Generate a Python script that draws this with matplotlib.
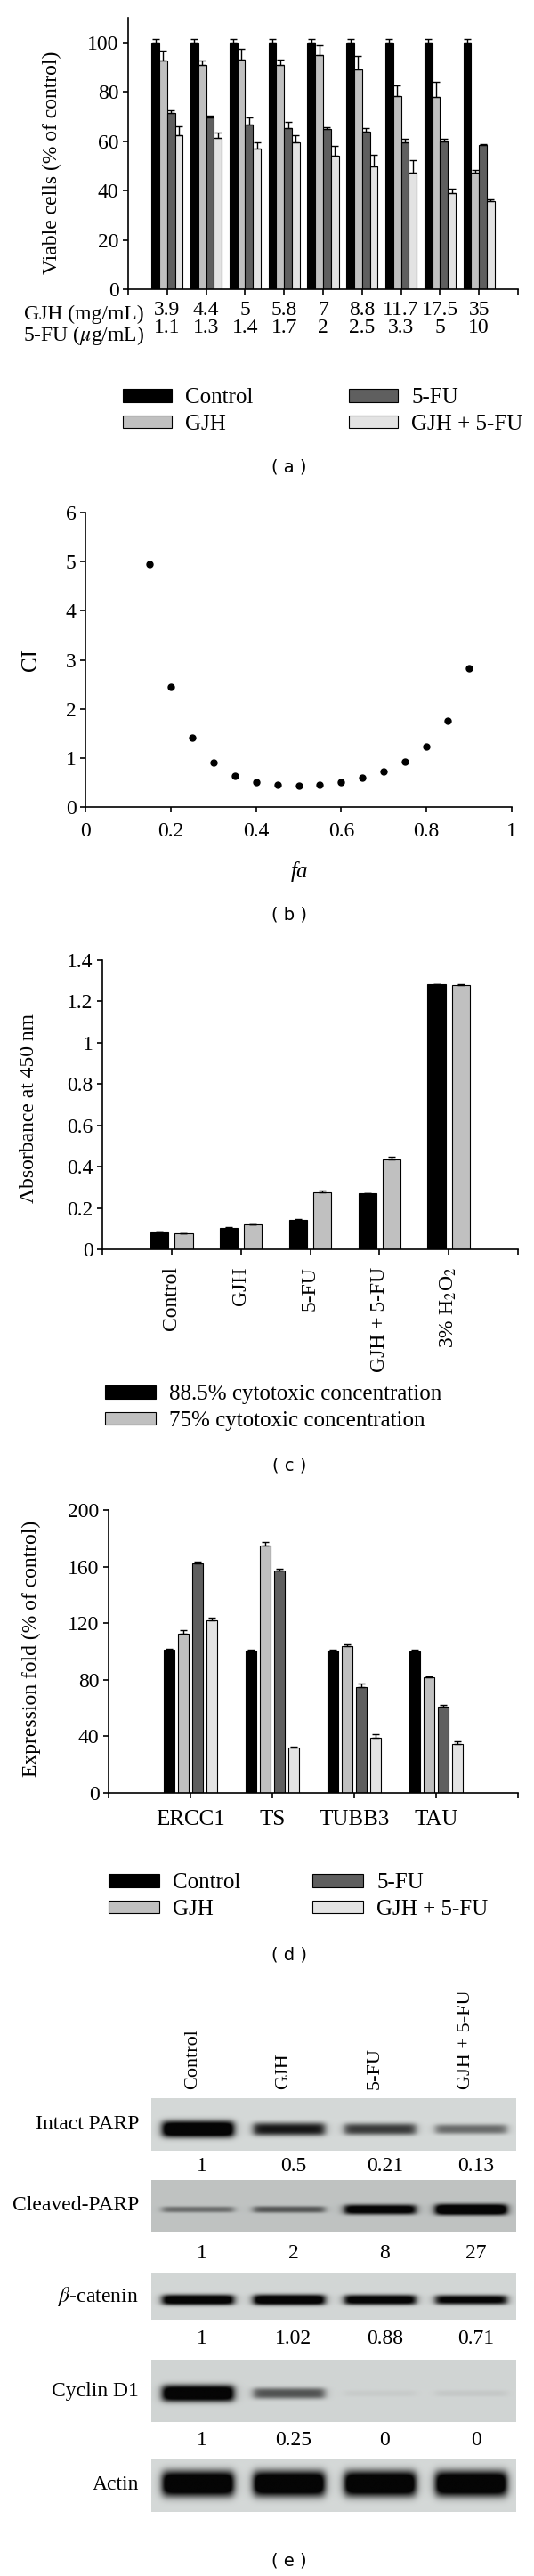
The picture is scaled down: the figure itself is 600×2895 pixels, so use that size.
import numpy as np
import matplotlib
matplotlib.use("Agg")
import matplotlib.pyplot as plt
from matplotlib.patches import Patch
from matplotlib.colors import LinearSegmentedColormap

plt.rcParams['font.family'] = ['Liberation Serif', 'DejaVu Serif']
plt.rcParams['mathtext.fontset'] = 'stix'

W, H = 600, 2895
BLACK, GRAY, DARK, LIGHT = '#000000', '#c0c0c0', '#5f5f5f', '#e3e3e3'
FS = 17

# ---- (a) viability ----
gjh_conc = ['3.9', '4.4', '5', '5.8', '7', '8.8', '11.7', '17.5', '35']
fu_conc = ['1.1', '1.3', '1.4', '1.7', '2', '2.5', '3.3', '5', '10']
ctrl_a = [100, 100, 100, 100, 100, 100, 100, 100, 100]
ctrl_a_err = [1.2, 1.2, 1.2, 1.2, 1.2, 1.2, 1.2, 1.2, 1.2]
gjh_a = [92.8, 90.8, 93.1, 91.0, 94.9, 89.0, 78.4, 77.8, 47.2]
gjh_a_err = [3.8, 2.0, 4.2, 2.2, 3.9, 5.6, 4.2, 6.2, 1.2]
fu_a = [71.3, 69.7, 66.7, 65.1, 64.8, 63.8, 59.6, 59.9, 58.4]
fu_a_err = [1.2, 0.8, 2.8, 2.6, 0.8, 1.3, 1.4, 1.0, 0.3]
combo_a = [62.3, 61.3, 57.1, 59.5, 54.1, 49.6, 47.3, 39.0, 35.6]
combo_a_err = [3.8, 2.2, 2.5, 3.0, 3.8, 4.9, 5.0, 1.9, 1.0]

# ---- (b) combination index ----
fa = [0.15, 0.2, 0.25, 0.3, 0.35, 0.4, 0.45, 0.5, 0.55, 0.6, 0.65, 0.7, 0.75, 0.8, 0.85, 0.9]
ci = [4.94, 2.45, 1.41, 0.90, 0.64, 0.51, 0.45, 0.43, 0.455, 0.51, 0.59, 0.72, 0.92, 1.23, 1.76, 2.83]

# ---- (c) absorbance ----
groups_c = ['Control', 'GJH', '5-FU', 'GJH + 5-FU', r'3% H$_2$O$_2$']
abs_885 = [0.080, 0.104, 0.144, 0.270, 1.282]
abs_885_err = [0.002, 0.002, 0.002, 0.002, 0.003]
abs_75 = [0.077, 0.119, 0.277, 0.436, 1.280]
abs_75_err = [0.002, 0.002, 0.008, 0.010, 0.003]

# ---- (d) expression ----
genes = ['ERCC1', 'TS', 'TUBB3', 'TAU']
ctrl_d = [101, 100.5, 100.5, 100]
ctrl_d_err = [1.0, 1.0, 1.0, 1.0]
gjh_d = [112.6, 174.7, 103.6, 81.8]
gjh_d_err = [2.5, 2.5, 1.3, 0.8]
fu_d = [162.1, 157.3, 75.1, 60.7]
fu_d_err = [1.5, 1.5, 2.0, 1.7]
combo_d = [122.1, 32.0, 39.1, 34.9]
combo_d_err = [2.0, 1.0, 2.7, 1.5]

# ---- (e) western blot ----
lanes = ['Control', 'GJH', '5-FU', 'GJH + 5-FU']
proteins = ['Intact PARP', 'Cleaved-PARP', r'$\beta$-catenin', 'Cyclin D1', 'Actin']
band_intact = [1.0, 0.68, 0.55, 0.38]
band_cleaved = [0.3, 0.38, 0.8, 0.95]
band_bcat = [0.9, 0.92, 0.85, 0.78]
band_cyclin = [0.95, 0.45, 0.03, 0.04]
band_actin = [1.0, 1.0, 1.0, 1.0]
quant_intact = ['1', '0.5', '0.21', '0.13']
quant_cleaved = ['1', '2', '8', '27']
quant_bcat = ['1', '1.02', '0.88', '0.71']
quant_cyclin = ['1', '0.25', '0', '0']

fig = plt.figure(figsize=(W / 100, H / 100), dpi=100)


def px_axes(l, t, r, b):
    return fig.add_axes([l / W, 1 - b / H, (r - l) / W, (b - t) / H])


def px_text(x, y, s, **kw):
    fig.text(x / W, 1 - y / H, s, **kw)


def style(ax):
    ax.spines[['top', 'right']].set_visible(False)
    ax.spines[['left', 'bottom']].set_linewidth(1.2)
    ax.tick_params(direction='out', length=4, width=1.2, labelsize=FS)


def bars(ax, x, vals, errs, color, width):
    ax.bar(x, vals, width, color=color, edgecolor='black', linewidth=0.8)
    ax.errorbar(x, vals, yerr=[np.zeros(len(vals)), errs], fmt='none',
                ecolor='black', elinewidth=1, capsize=3, capthick=1)


def panel_label(y, s):
    px_text(325, y, s, family='DejaVu Sans', fontsize=14, ha='center', va='center')


# (a)
ax = px_axes(144, 20, 582, 325)
style(ax)
xa = np.arange(1, len(gjh_conc) + 1)
for off, v, e, c in [(-0.3, ctrl_a, ctrl_a_err, BLACK), (-0.1, gjh_a, gjh_a_err, GRAY),
                     (0.1, fu_a, fu_a_err, DARK), (0.3, combo_a, combo_a_err, LIGHT)]:
    bars(ax, xa + off, v, e, c, 0.2)
ax.set_xlim(0, 10)
ax.set_ylim(0, 110)
ax.set_yticks(range(0, 101, 20))
ax.set_xticks(range(0, 11))
ax.set_xticklabels([''] + [g + '\n' + f for g, f in zip(gjh_conc, fu_conc)] + [''],
                   linespacing=0.95)
ax.tick_params(axis='x', pad=5)
px_text(162, 353, 'GJH (mg/mL)', fontsize=FS, ha='right', va='center')
px_text(162, 377, r'5-FU ($\mu$g/mL)', fontsize=FS, ha='right', va='center')
px_text(58, 183, 'Viable cells (% of control)', fontsize=FS, rotation=90, ha='center', va='center')
handles4 = [Patch(facecolor=c, edgecolor='black', linewidth=0.8) for c in [BLACK, GRAY, DARK, LIGHT]]
names4 = ['Control', 'GJH', '5-FU', 'GJH + 5-FU']
fig.legend(handles4, names4, ncol=2, loc='center', bbox_to_anchor=(363 / W, 1 - 462 / H),
           frameon=False, fontsize=18, handlelength=2.2, handleheight=0.5,
           handletextpad=0.6, columnspacing=4.3, labelspacing=0.3, borderpad=0)
panel_label(525, '( a )')

# (b)
ax = px_axes(96, 576, 575, 907)
style(ax)
ax.plot(fa, ci, 'o', color='black', markersize=5)
ax.set_xlim(0, 1)
ax.set_ylim(0, 6)
ax.set_xticks([0, 0.2, 0.4, 0.6, 0.8, 1])
ax.set_xticklabels(['0', '0.2', '0.4', '0.6', '0.8', '1'])
ax.set_yticks(range(0, 7))
ax.tick_params(axis='x', pad=8)
px_text(35, 742, 'CI', fontsize=18, rotation=90, ha='center', va='center')
px_text(336, 980, 'fa', fontsize=18, style='italic', ha='center', va='center')
panel_label(1028, '( b )')

# (c)
ax = px_axes(115, 1079, 582, 1404)
style(ax)
xc = np.arange(1, len(groups_c) + 1)
bars(ax, xc - 0.175, abs_885, abs_885_err, BLACK, 0.26)
bars(ax, xc + 0.175, abs_75, abs_75_err, GRAY, 0.26)
ax.set_xlim(0, 6)
ax.set_ylim(0, 1.4)
ax.set_yticks([0, 0.2, 0.4, 0.6, 0.8, 1.0, 1.2, 1.4])
ax.set_yticklabels(['0', '0.2', '0.4', '0.6', '0.8', '1', '1.2', '1.4'])
ax.set_xticks(range(0, 7))
ax.set_xticklabels([''] + groups_c + [''], rotation=90, va='top')
ax.tick_params(axis='x', pad=10)
px_text(33, 1245, 'Absorbance at 450 nm', fontsize=FS, rotation=90, ha='center', va='center')
fig.legend([Patch(facecolor=BLACK, edgecolor='black', linewidth=0.8),
            Patch(facecolor=GRAY, edgecolor='black', linewidth=0.8)],
           ['88.5% cytotoxic concentration', '75% cytotoxic concentration'],
           loc='center', bbox_to_anchor=(307 / W, 1 - 1582 / H), frameon=False, fontsize=18,
           handlelength=2.3, handleheight=0.5, handletextpad=0.6, labelspacing=0.3, borderpad=0)
panel_label(1647, '( c )')

# (d)
ax = px_axes(122, 1697, 582, 2015)
style(ax)
xd = np.arange(1, len(genes) + 1)
for off, v, e, c in [(-0.26, ctrl_d, ctrl_d_err, BLACK), (-0.087, gjh_d, gjh_d_err, GRAY),
                     (0.087, fu_d, fu_d_err, DARK), (0.26, combo_d, combo_d_err, LIGHT)]:
    bars(ax, xd + off, v, e, c, 0.135)
ax.set_xlim(0, 5)
ax.set_ylim(0, 200)
ax.set_yticks(range(0, 201, 40))
ax.set_xticks(range(0, 6))
ax.set_xticklabels([''] + genes + [''])
ax.tick_params(axis='x', pad=10, labelsize=18)
px_text(35, 1853, 'Expression fold (% of control)', fontsize=FS, rotation=90, ha='center', va='center')
fig.legend(handles4, names4, ncol=2, loc='center', bbox_to_anchor=(335 / W, 1 - 2131 / H),
           frameon=False, fontsize=18, handlelength=2.3, handleheight=0.5,
           handletextpad=0.6, columnspacing=3.2, labelspacing=0.3, borderpad=0)
panel_label(2197, '( d )')

# (e)
blot_cmap = LinearSegmentedColormap.from_list('blot', ['#050505', '#dde1e0'])
blots = [
    (band_intact, (2358, 2417), 0.59, 0.16, 0.96, quant_intact, 2435),
    (band_cleaved, (2450, 2508), 0.57, 0.11, 0.86, quant_cleaved, 2532),
    (band_bcat, (2554, 2607), 0.58, 0.12, 0.95, quant_bcat, 2629),
    (band_cyclin, (2652, 2722), 0.54, 0.14, 0.94, quant_cyclin, 2743),
    (band_actin, (2763, 2823), 0.48, 0.24, 0.96, None, None),
]
xs = np.linspace(0, 4, 400)
ys = np.linspace(0, 1, 80)
X, Y = np.meshgrid(xs, ys)
lane_x = [170 + 410 * (i + 0.5) / 4 for i in range(4)]
for (dark, (top, bot), yc, sig, bg, quant, qy), name in zip(blots, proteins):
    img = np.full(X.shape, bg)
    for i, d in enumerate(dark):
        hx = 0.5 * (np.tanh((X - (i + 0.12)) / 0.05) - np.tanh((X - (i + 0.9)) / 0.05))
        vy = np.exp(-np.abs((Y - yc) / (sig * (0.35 + 0.65 * d))) ** 3)
        img -= d * 1.3 * hx * vy
    img = np.clip(img, 0, 1)
    bax = px_axes(170, top, 580, bot)
    bax.imshow(img, cmap=blot_cmap, vmin=0, vmax=1, aspect='auto', extent=[0, 4, 1, 0],
               interpolation='bilinear')
    bax.axis('off')
    px_text(156, (top + bot) / 2, name, fontsize=FS, ha='right', va='center')
    if quant is not None:
        for lx, q in zip(lane_x, quant):
            px_text(lx + 6, qy, q, fontsize=FS, ha='center', va='center')
for lx, name in zip(lane_x, lanes):
    px_text(lx - 5, 2348, name, fontsize=16, rotation=90, ha='center', va='bottom')
panel_label(2878, '( e )')

fig.savefig('out.png', dpi=100, facecolor='white')
